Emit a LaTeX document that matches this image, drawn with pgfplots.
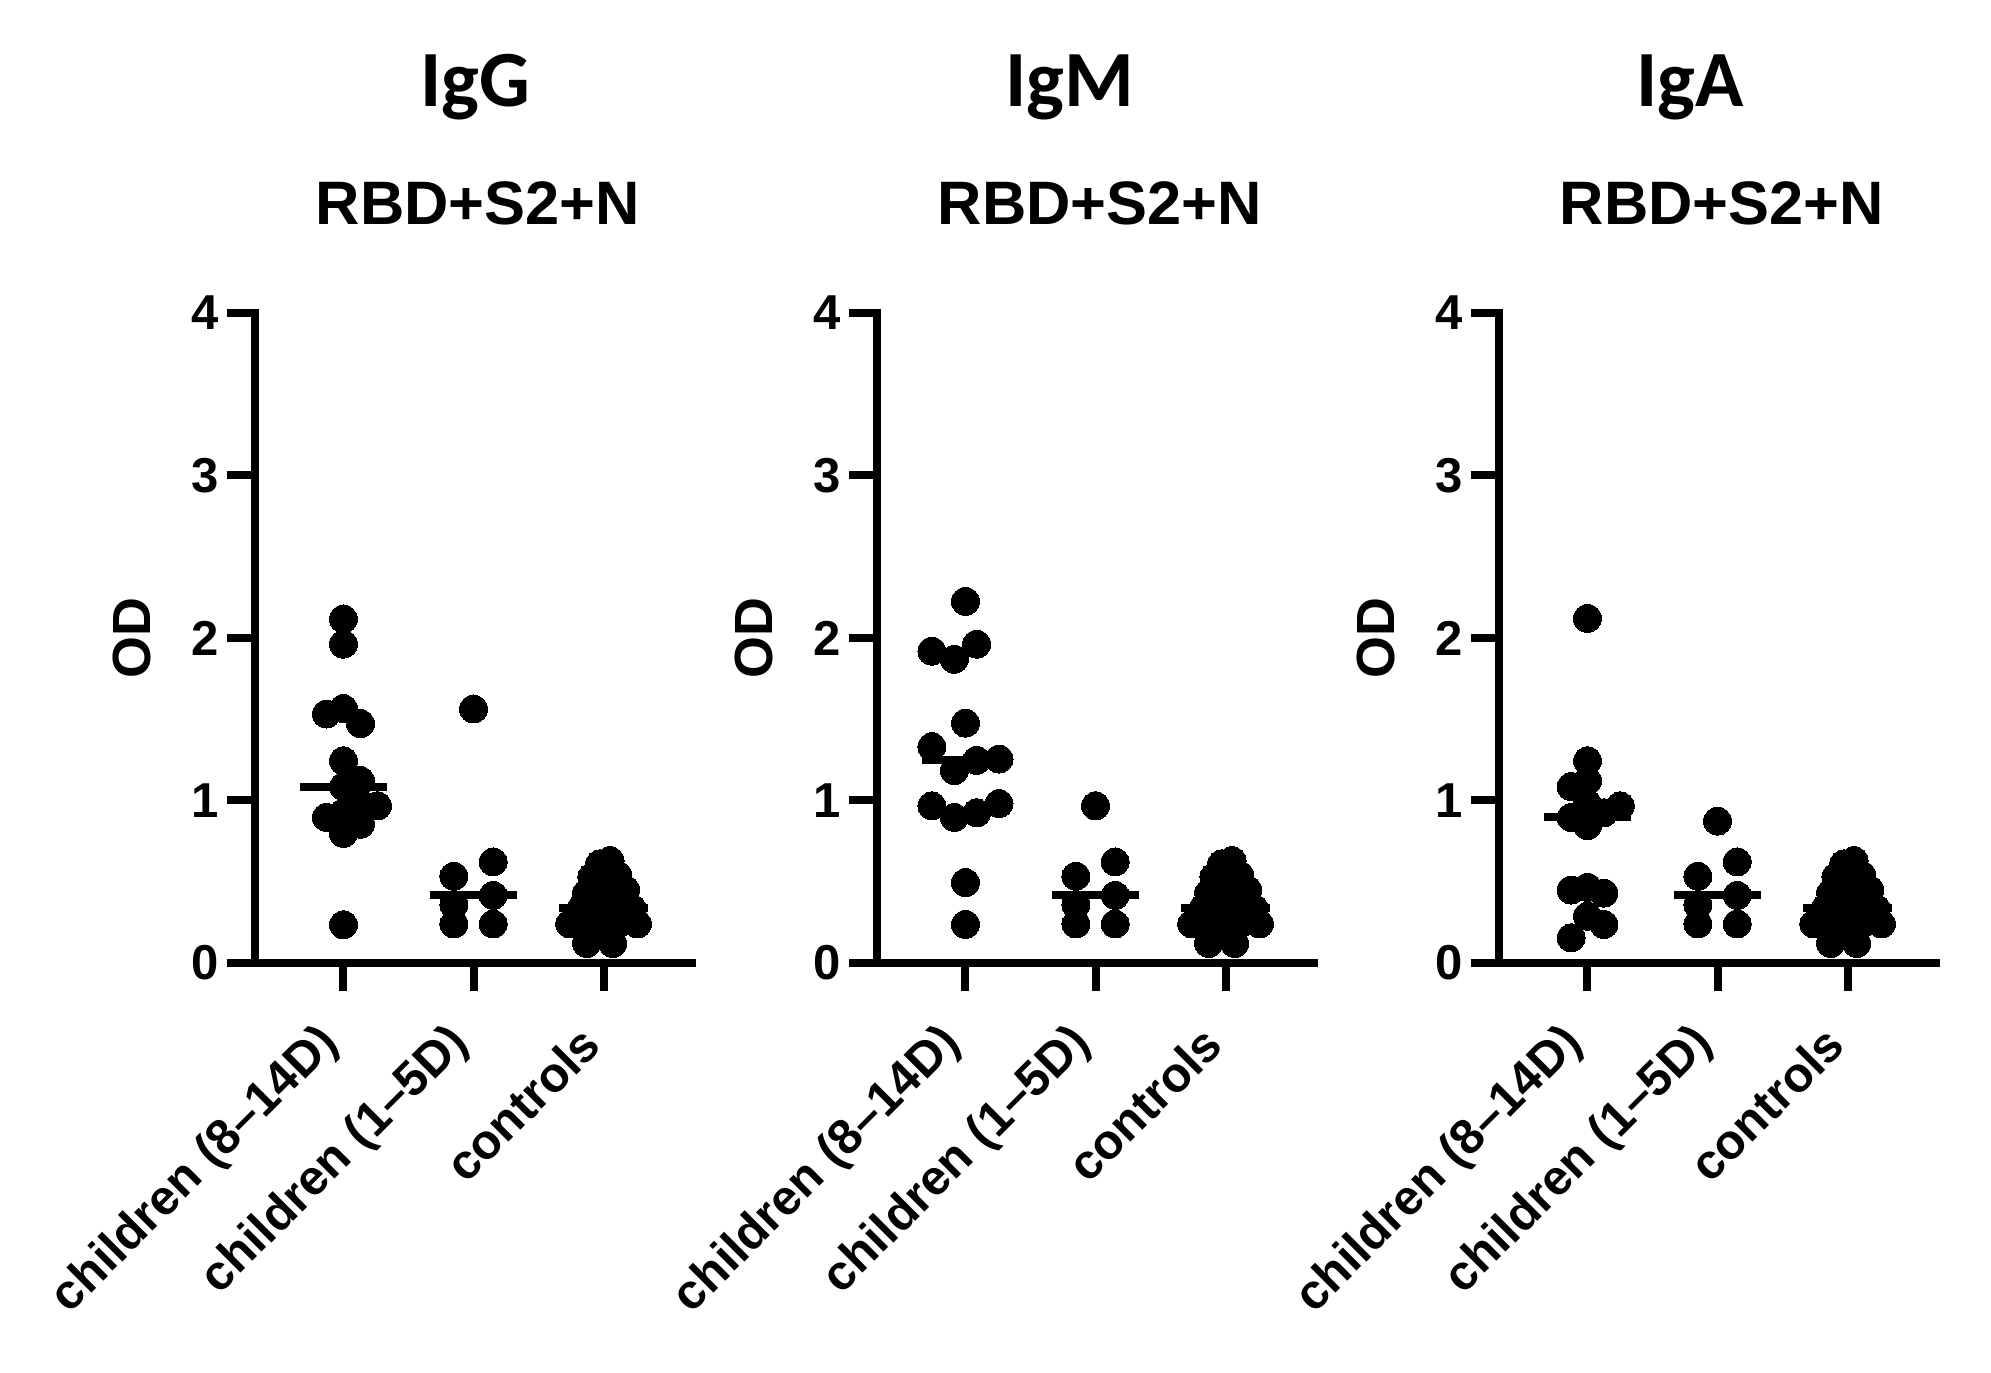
\documentclass[border=0pt]{standalone}
\usepackage{fontspec}
\setmainfont{Liberation Sans}
\newfontfamily\calibri{Carlito}
\usepackage{pgfplots}
\usepackage{pgfplotstable}
\pgfplotsset{compat=1.18}

% controls (same in all three panels): x offset around category 2, OD
\pgfplotstableread{
x y
1.87 0.12
2.07 0.12
1.97 0.20
1.74 0.24
2.26 0.24
1.88 0.25
2.13 0.25
2.02 0.28
1.82 0.30
2.19 0.31
1.92 0.32
2.08 0.33
2.22 0.335
1.83 0.34
2.00 0.38
1.88 0.40
2.12 0.41
1.87 0.43
2.04 0.44
2.17 0.45
1.94 0.48
2.09 0.50
1.91 0.53
2.11 0.54
2.00 0.57
1.97 0.61
2.05 0.63
}\controls

\pgfplotstableread{
x y
0.849 0.534
1.151 0.622
0.849 0.359
1.151 0.416
0.849 0.240
1.151 0.240
}\shortgroup

\pgfplotsset{
  panel/.style={
    scale only axis, width=109.25bp, height=162.5bp,
    xmin=-0.68, xmax=2.68, ymin=0, ymax=4,
    axis x line*=bottom, axis y line*=left,
    axis line style={line width=2bp, line cap=rect, -},
    xtick={0,1,2}, ytick={0,1,2,3,4},
    xticklabels={children (8–14D), children (1–5D), controls},
    tick align=outside, major tick length=6bp,
    tick style={line width=2bp, black, line cap=rect},
    ticklabel style={font=\fontsize{12.3}{14}\selectfont\bfseries},
    /pgf/number format/assume math mode=true,
    xticklabel style={rotate=45, anchor=east, xshift=-1bp},
    xticklabel shift=9bp,
    yticklabel shift=-0.5bp,
    ylabel={OD},
    every axis y label/.style={at={(axis description cs:-0.2815,0.5)}, rotate=90, anchor=center},
    ylabel style={font=\fontsize{13.5}{16}\selectfont\bfseries},
    clip=false,
    anchor=south west,
  },
  dots/.style={only marks, mark=*, mark size=3.5bp, mark options={fill=black, draw=black, line width=0pt}},
  med/.style={no marks, line width=2bp, black},
}

\begin{document}
\begin{tikzpicture}[x=0.25bp, y=0.25bp]
\path[use as bounding box] (0,0) rectangle (1991,1373);

% ---------- IgG ----------
\begin{axis}[panel, at={(63.75bp,102.5bp)}]
\addplot[dots] coordinates {
(0,2.117) (0,1.962) (-0.131,1.532) (0,1.566) (0.131,1.473) (0,1.244)
(0.131,1.122) (0,1.085) (-0.131,0.896) (0,0.924) (0.131,0.981) (0.262,0.967)
(0.131,0.854) (0,0.797) (0,0.235)};
\addplot[dots] coordinates {(1,1.563)};
\addplot[dots] table[x=x,y=y] {\shortgroup};
\addplot[dots] table[x=x,y=y] {\controls};
\addplot[med] coordinates {(-0.333,1.085) (0.333,1.085)};
\addplot[med] coordinates {(0.667,0.416) (1.333,0.416)};
\addplot[med] coordinates {(1.66,0.34) (2.34,0.34)};
\end{axis}

% ---------- IgM ----------
\begin{axis}[panel, at={(219.25bp,102.5bp)}]
\addplot[dots] coordinates {
(0,2.225) (-0.258,1.919) (-0.086,1.869) (0.086,1.962) (0,1.476) (-0.258,1.331)
(0.086,1.247) (0.258,1.255) (-0.086,1.184) (-0.258,0.967) (-0.086,0.896)
(0.086,0.924) (0.258,0.981) (0,0.495) (0,0.237)};
\addplot[dots] coordinates {(1,0.967)};
\addplot[dots] table[x=x,y=y] {\shortgroup};
\addplot[dots] table[x=x,y=y] {\controls};
\addplot[med] coordinates {(-0.333,1.247) (0.333,1.247)};
\addplot[med] coordinates {(0.667,0.416) (1.333,0.416)};
\addplot[med] coordinates {(1.66,0.34) (2.34,0.34)};
\end{axis}

% ---------- IgA ----------
\begin{axis}[panel, at={(374.75bp,102.5bp)}]
\addplot[dots] coordinates {
(0,2.12) (0,1.244) (-0.126,1.085) (0,1.122) (0,0.981) (0.252,0.967)
(0.126,0.924) (-0.126,0.896) (0,0.845) (-0.126,0.449) (0,0.466) (0.126,0.43)
(0,0.288) (0.126,0.237) (-0.126,0.155)};
\addplot[dots] coordinates {(1,0.873)};
\addplot[dots] table[x=x,y=y] {\shortgroup};
\addplot[dots] table[x=x,y=y] {\controls};
\addplot[med] coordinates {(-0.333,0.896) (0.333,0.896)};
\addplot[med] coordinates {(0.667,0.416) (1.333,0.416)};
\addplot[med] coordinates {(1.66,0.34) (2.34,0.34)};
\end{axis}

% titles
\node[font=\calibri\fontsize{20}{24}\selectfont\bfseries, anchor=base] at (475,1266) {IgG};
\node[font=\calibri\fontsize{20}{24}\selectfont\bfseries, anchor=base] at (1070,1266) {IgM};
\node[font=\calibri\fontsize{20}{24}\selectfont\bfseries, anchor=base] at (1690,1266) {IgA};
\node[font=\fontsize{15.4}{18}\selectfont\bfseries, anchor=base] at (478,1148) {RBD+S2+N};
\node[font=\fontsize{15.4}{18}\selectfont\bfseries, anchor=base] at (1100,1148) {RBD+S2+N};
\node[font=\fontsize{15.4}{18}\selectfont\bfseries, anchor=base] at (1722,1148) {RBD+S2+N};
\end{tikzpicture}
\end{document}
